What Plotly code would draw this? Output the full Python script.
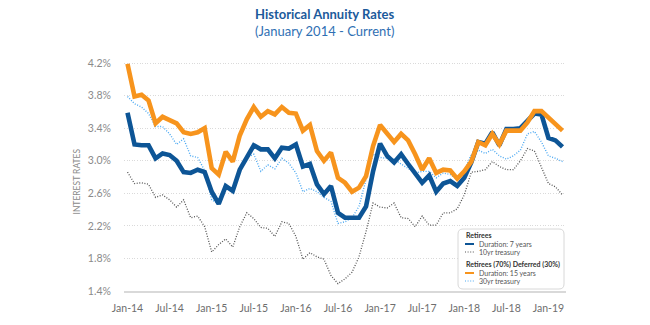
import plotly.graph_objects as go
import pandas as pd

months = list(pd.date_range("2014-01-01", periods=63, freq="MS").strftime("%b-%y"))
tick_labels = ["Jan-14", "Jul-14", "Jan-15", "Jul-15", "Jan-16", "Jul-16",
               "Jan-17", "Jul-17", "Jan-18", "Jul-18", "Jan-19"]
y_ticks = [1.4, 1.8, 2.2, 2.6, 3.0, 3.4, 3.8, 4.2]

duration15 = [4.19, 3.79, 3.81, 3.74, 3.46, 3.54, 3.50, 3.46, 3.35, 3.33, 3.35, 3.40,
              2.91, 2.83, 3.11, 2.99, 3.31, 3.51, 3.66, 3.54, 3.61, 3.57, 3.66, 3.59,
              3.58, 3.37, 3.44, 3.12, 3.00, 3.10, 2.79, 2.73, 2.62, 2.67, 2.81, 3.18,
              3.44, 3.33, 3.23, 3.33, 3.25, 3.08, 2.89, 3.03, 2.85, 2.89, 2.88, 2.78,
              2.87, 2.99, 3.23, 3.19, 3.33, 3.20, 3.37, 3.37, 3.37, 3.47, 3.61, 3.61,
              3.53, 3.46, 3.37]
duration7 = [3.59, 3.20, 3.19, 3.19, 3.03, 3.09, 3.07, 3.00, 2.86, 2.85, 2.89, 2.86,
             2.62, 2.47, 2.69, 2.63, 2.89, 3.04, 3.19, 3.14, 3.14, 3.03, 3.16, 3.15,
             3.20, 2.93, 2.96, 2.71, 2.59, 2.69, 2.36, 2.30, 2.30, 2.30, 2.44, 2.87,
             3.21, 3.06, 2.98, 3.08, 2.96, 2.84, 2.73, 2.82, 2.62, 2.72, 2.75, 2.69,
             2.79, 2.98, 3.23, 3.21, 3.35, 3.19, 3.39, 3.39, 3.40, 3.49, 3.58, 3.57,
             3.28, 3.25, 3.17]
treasury30 = [3.79, 3.70, 3.66, 3.58, 3.42, 3.42, 3.33, 3.20, 3.27, 3.06, 3.04, 2.88,
              2.52, 2.47, 2.68, 2.62, 2.91, 3.04, 3.08, 2.87, 2.95, 2.90, 3.03, 2.97,
              2.85, 2.62, 2.66, 2.62, 2.55, 2.50, 2.23, 2.25, 2.30, 2.44, 2.77, 3.08,
              3.04, 3.03, 3.02, 2.96, 2.91, 2.85, 2.87, 2.87, 2.79, 2.85, 2.83, 2.77,
              2.87, 3.08, 3.13, 3.09, 3.14, 3.06, 3.02, 3.06, 3.13, 3.33, 3.36, 3.23,
              3.06, 3.03, 2.99]
treasury10 = [2.86, 2.72, 2.73, 2.71, 2.55, 2.58, 2.52, 2.43, 2.52, 2.30, 2.32, 2.19,
              1.88, 1.97, 2.04, 1.94, 2.19, 2.36, 2.29, 2.18, 2.17, 2.07, 2.25, 2.23,
              2.07, 1.79, 1.87, 1.82, 1.79, 1.59, 1.49, 1.55, 1.63, 1.82, 2.13, 2.48,
              2.43, 2.42, 2.48, 2.30, 2.29, 2.19, 2.32, 2.21, 2.21, 2.36, 2.36, 2.41,
              2.58, 2.86, 2.87, 2.89, 2.99, 2.93, 2.89, 2.89, 3.00, 3.15, 3.12, 2.93,
              2.72, 2.68, 2.58]

C_BLUE = "#0d5596"
C_ORANGE = "#f7941d"
C_LBLUE = "#4eaaf2"
C_GRAY = "#555555"
FONT = "Lato"
DOT = "1px,1.6px"

W, H = 650, 325
ML, MR, MT, MB = 124, 84, 59, 34
PW, PH = W - ML - MR, H - MT - MB


def px(x):
    return (x - ML) / PW


def py(y):
    return (H - MB - y) / PH


fig = go.Figure()
fig.add_trace(go.Scatter(x=months, y=treasury10, mode="lines", name="10yr treasury",
                         line=dict(color=C_GRAY, width=1.3, dash=DOT)))
fig.add_trace(go.Scatter(x=months, y=treasury30, mode="lines", name="30yr treasury",
                         line=dict(color=C_LBLUE, width=1.4, dash=DOT)))
fig.add_trace(go.Scatter(x=months, y=duration7, mode="lines", name="Duration: 7 years",
                         line=dict(color=C_BLUE, width=4.6)))
fig.add_trace(go.Scatter(x=months, y=duration15, mode="lines", name="Duration: 15 years",
                         line=dict(color=C_ORANGE, width=4.6)))

shapes = []
annotations = []

# title
annotations.append(dict(text="<b>Historical Annuity Rates</b>", xref="paper", yref="paper",
                        x=px(324), y=py(14), xanchor="center", yanchor="middle", showarrow=False,
                        font=dict(family=FONT, size=13, color="#1c5a9b")))
annotations.append(dict(text="(January 2014 - Current)", xref="paper", yref="paper",
                        x=px(324), y=py(31), xanchor="center", yanchor="middle", showarrow=False,
                        font=dict(family=FONT, size=13, color="#2f6fb3")))
# y axis title
annotations.append(dict(text="INTEREST RATES", xref="paper", yref="paper",
                        x=px(76.5), y=py(182), xanchor="center", yanchor="middle", showarrow=False,
                        textangle=-90, font=dict(family=FONT, size=8.5, color="#8a8a8a")))

# legend box (rounded rect)
x0, x1, y0, y1, r = 458, 564, 229, 289, 5
path = (f"M {px(x0 + r)},{py(y0)} L {px(x1 - r)},{py(y0)} Q {px(x1)},{py(y0)} {px(x1)},{py(y0 + r)} "
        f"L {px(x1)},{py(y1 - r)} Q {px(x1)},{py(y1)} {px(x1 - r)},{py(y1)} "
        f"L {px(x0 + r)},{py(y1)} Q {px(x0)},{py(y1)} {px(x0)},{py(y1 - r)} "
        f"L {px(x0)},{py(y0 + r)} Q {px(x0)},{py(y0)} {px(x0 + r)},{py(y0)} Z")
shapes.append(dict(type="path", path=path, xref="paper", yref="paper", layer="above",
                   fillcolor="white", line=dict(color="#d8d8d8", width=1)))

legend_rows = [
    ("<b>Retirees</b>", None, None, 235),
    ("Duration: 7 years", C_BLUE, "solid", 244),
    ("10yr treasury", C_GRAY, DOT, 252),
    ("<b>Retirees (70%) Deferred (30%)</b>", None, None, 264),
    ("Duration: 15 years", C_ORANGE, "solid", 273),
    ("30yr treasury", C_LBLUE, DOT, 281),
]
for text, col, dash, yy in legend_rows:
    if col is None:
        annotations.append(dict(text=text, xref="paper", yref="paper", x=px(464), y=py(yy),
                                xanchor="left", yanchor="middle", showarrow=False,
                                font=dict(family=FONT, size=7, color="#333333")))
    else:
        shapes.append(dict(type="line", xref="paper", yref="paper", layer="above",
                           x0=px(465), x1=px(474), y0=py(yy), y1=py(yy),
                           line=dict(color=col, width=2 if dash == "solid" else 1.1, dash=dash)))
        annotations.append(dict(text=text, xref="paper", yref="paper", x=px(477), y=py(yy),
                                xanchor="left", yanchor="middle", showarrow=False,
                                font=dict(family=FONT, size=7, color="#555555")))

fig.update_layout(
    width=W, height=H,
    margin=dict(l=ML, r=MR, t=MT, b=MB, pad=0),
    paper_bgcolor="white", plot_bgcolor="white",
    showlegend=False,
    shapes=shapes, annotations=annotations,
    font=dict(family=FONT),
    xaxis=dict(type="category", range=[-0.5, len(months) - 0.5],
               tickmode="array", tickvals=tick_labels, ticktext=tick_labels,
               showgrid=False, showline=True, linecolor="#d9d9d9", linewidth=1.5,
               ticks="outside", ticklen=7, tickcolor="rgba(0,0,0,0)",
               tickfont=dict(family=FONT, size=10.5, color="#6e6e6e"), zeroline=False),
    yaxis=dict(range=[1.4, 4.25], tickmode="array", tickvals=y_ticks,
               ticktext=[f"{v:.1f}%" for v in y_ticks],
               showgrid=True, gridcolor="#dadada", griddash=DOT, gridwidth=1,
               ticks="outside", ticklen=10, tickcolor="rgba(0,0,0,0)",
               tickfont=dict(family=FONT, size=10.5, color="#8a8a8a"), zeroline=False),
)

fig.write_html("out.html")
